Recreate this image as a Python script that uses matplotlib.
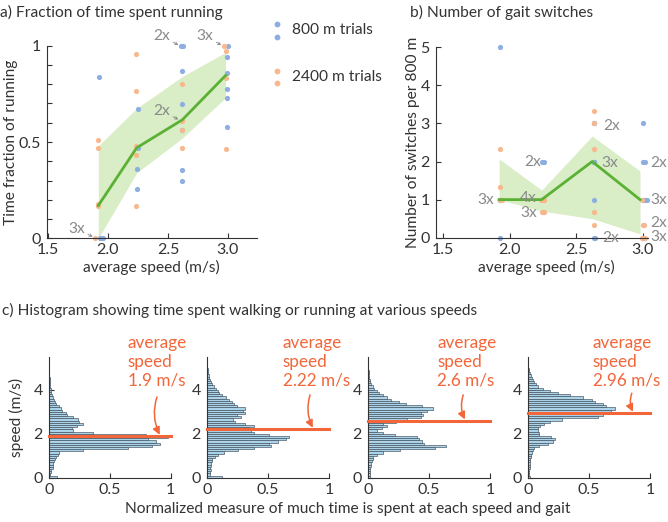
import numpy as np
import matplotlib
matplotlib.use('Agg')
import matplotlib.pyplot as plt
from matplotlib.lines import Line2D

plt.rcParams['font.family'] = ['Lato', 'DejaVu Sans']
plt.rcParams['font.size'] = 11.2

BLUE = '#8eaee2'
ORANGE = '#f8b88e'
GREEN = '#5ab134'
BAND = '#d9edc6'
RED = '#f2663a'
GRAY = '#8a8a8a'
INK = '#333333'
FS = 11.2
TFS = 11.5

# ---- panel a: fraction of time running ----
speeds = [1.92, 2.24, 2.62, 2.98]
a_mean = [0.17, 0.47, 0.615, 0.845]
a_low = [0.0, 0.34, 0.52, 0.73]
a_high = [0.48, 0.675, 0.84, 0.965]

a_blue_x = [1.93, 1.935, 1.945, 1.955, 2.25, 2.25, 2.245, 2.245,
            2.61, 2.625, 2.62, 2.62, 2.62, 2.62, 2.62,
            3.0, 2.99, 2.99, 2.99, 2.99, 2.99]
a_blue_y = [0.84, 0.0, 0.0, 0.0, 0.67, 0.47, 0.36, 0.255,
            1.0, 1.0, 0.87, 0.695, 0.56, 0.355, 0.295,
            1.0, 0.94, 0.86, 0.775, 0.73, 0.58]
a_orange_x = [1.915, 1.915, 1.915, 1.915, 1.89,
              2.235, 2.235, 2.235, 2.235, 2.235,
              2.62, 2.62, 2.62, 2.62,
              2.965, 2.985, 2.985, 2.985]
a_orange_y = [0.51, 0.47, 0.18, 0.17, 0.0,
              0.955, 0.765, 0.48, 0.43, 0.17,
              0.80, 0.61, 0.56, 0.47,
              1.0, 0.975, 0.83, 0.465]
a_notes = [('2x', 2.45, 1.05, 2.598, 1.0), ('3x', 2.81, 1.05, 2.955, 1.0),
           ('2x', 2.45, 0.66, 2.598, 0.614), ('3x', 1.74, 0.05, 1.884, 0.005)]

# ---- panel b: gait switches ----
b_mean = [1, 1, 2, 1]
b_low = [1.0, 0.7, 0.5, 0.1]
b_high = [2.07, 1.25, 2.67, 1.75]

b_blue_x = [1.93, 1.93, 1.93, 1.93, 1.93, 2.245, 2.26,
            2.635, 2.635, 2.635, 2.635, 2.635, 2.635, 2.635, 2.645,
            3.0, 3.0, 3.02, 3.0, 3.02, 3.03, 3.0]
b_blue_y = [5, 1, 1, 1, 0, 2, 2,
            3, 3, 2, 2, 2, 1, 0, 0,
            3, 2, 2, 1, 1, 1, 0]
b_orange_x = [1.925, 1.925, 1.93, 1.94,
              2.235, 2.245, 2.255, 2.26, 2.24, 2.25, 2.26,
              2.635, 2.635, 2.635, 2.635, 2.635,
              2.995, 3.0, 3.01, 2.995, 3.005, 3.02]
b_orange_y = [2.33, 1.33, 1, 1,
              1, 1, 1, 1, 0.67, 0.67, 0.67,
              3.33, 3, 2.33, 0.67, 0.33,
              1, 0.33, 0.33, 0, 0, 0]
b_notes = [('3x', 1.82, 1.0), ('4x', 2.14, 1.03), ('3x', 2.14, 0.65),
           ('2x', 2.17, 2.0), ('2x', 2.77, 2.93), ('3x', 2.75, 1.95),
           ('2x', 2.76, 0.0), ('2x', 3.12, 1.95), ('3x', 3.12, 0.99),
           ('2x', 3.12, 0.39), ('3x', 3.12, 0.03)]

# ---- panel c: histograms (bin width 0.1 m/s, from 0 to 5) ----
avg_speed = [1.9, 2.22, 2.6, 2.96]
avg_label = ['1.9', '2.22', '2.6', '2.96']
hist1 = [0.065, 0.01, 0.015, 0.02, 0.03, 0.03, 0.035, 0.04, 0.05, 0.06,
         0.077, 0.085, 0.28, 0.65, 0.85, 0.91, 0.88, 0.81, 0.98, 0.80,
         0.36, 0.20, 0.19, 0.23, 0.28, 0.25, 0.24, 0.20, 0.15, 0.14,
         0.11, 0.10, 0.08, 0.06, 0.05, 0.04, 0.03, 0.025, 0.02, 0.018,
         0.015, 0.012, 0.01, 0.008, 0.006, 0.005, 0.004, 0.003, 0.002, 0.001]
hist2 = [0.12, 0.02, 0.025, 0.03, 0.025, 0.03, 0.03, 0.035, 0.04, 0.06,
         0.09, 0.14, 0.25, 0.38, 0.52, 0.51, 0.58, 0.65, 0.67, 0.51,
         0.38, 0.36, 0.34, 0.38, 0.31, 0.23, 0.21, 0.28, 0.24, 0.31,
         0.29, 0.31, 0.24, 0.22, 0.20, 0.175, 0.15, 0.12, 0.10, 0.085,
         0.075, 0.055, 0.04, 0.03, 0.02, 0.015, 0.01, 0.006, 0.003, 0.002]
hist3 = [0.01, 0.01, 0.01, 0.015, 0.015, 0.02, 0.02, 0.03, 0.035, 0.04,
         0.07, 0.12, 0.26, 0.55, 0.64, 0.46, 0.44, 0.42, 0.40, 0.22,
         0.12, 0.07, 0.11, 0.15, 0.12, 0.23, 0.32, 0.43, 0.45, 0.43,
         0.48, 0.53, 0.44, 0.31, 0.25, 0.19, 0.15, 0.12, 0.09, 0.07,
         0.05, 0.035, 0.025, 0.015, 0.01, 0.008, 0.005, 0.003, 0.002, 0.0]
hist4 = [0.01, 0.005, 0.005, 0.008, 0.01, 0.01, 0.012, 0.015, 0.015, 0.02,
         0.025, 0.03, 0.035, 0.05, 0.09, 0.16, 0.20, 0.22, 0.19, 0.09,
         0.09, 0.08, 0.08, 0.10, 0.13, 0.18, 0.28, 0.57, 0.61, 0.66,
         0.68, 0.71, 0.64, 0.61, 0.55, 0.52, 0.45, 0.34, 0.24, 0.18,
         0.12, 0.08, 0.06, 0.05, 0.04, 0.03, 0.02, 0.01, 0.005, 0.003]
hists = [hist1, hist2, hist3, hist4]
bin_w = 0.1
bins = np.arange(len(hist1)) * bin_w

W, H = 668, 522
fig = plt.figure(figsize=(W / 100, H / 100), dpi=100)


def box(l, t, r, b):
    # pixel box -> figure fraction
    return [l / W, 1 - b / H, (r - l) / W, (b - t) / H]


def style(ax):
    for s in ['top', 'right']:
        ax.spines[s].set_visible(False)
    for s in ['left', 'bottom']:
        ax.spines[s].set_color(INK)
        ax.spines[s].set_linewidth(0.8)
    ax.tick_params(direction='in', length=3.5, width=0.8, color=INK,
                   labelcolor=INK, labelsize=TFS, pad=3.5)
    ax.tick_params(axis='y', pad=4.5)


# panel a
ax = fig.add_axes(box(46.7, 45.7, 256.7, 238.3))
style(ax)
ax.fill_between(speeds, a_low, a_high, color=BAND, lw=0, zorder=1)
ax.plot(speeds, a_mean, color=GREEN, lw=2, zorder=3)
ax.scatter(a_blue_x, a_blue_y, s=14, color=BLUE, lw=0, zorder=2, clip_on=False)
ax.scatter(a_orange_x, a_orange_y, s=14, color=ORANGE, lw=0, zorder=2, clip_on=False)
for t, tx, ty, px_, py_ in a_notes:
    ax.annotate(t, xy=(px_, py_), xytext=(tx, ty), color=GRAY, fontsize=FS,
                ha='center', va='center', annotation_clip=False,
                arrowprops=dict(arrowstyle='->', color=GRAY, lw=0.6,
                                mutation_scale=5, shrinkA=6, shrinkB=1))
ax.set_xlim(1.49, 3.24)
ax.set_ylim(0, 1)
ax.set_xticks([1.5, 2.0, 2.5, 3.0])
ax.set_xticklabels(['1.5', '2.0', '2.5', '3.0'])
ax.set_yticks(np.arange(0, 1.01, 0.1))
ax.set_yticklabels(['0', '', '', '', '', '0.5', '', '', '', '', '1'])
ax.set_xlabel('average speed (m/s)', fontsize=FS, color=INK)
ax.set_ylabel('Time fraction of running', fontsize=FS, color=INK)
ax.xaxis.set_label_coords(0.5, -0.113)
ax.yaxis.set_label_coords(-0.135, 0.5)

# panel b
bx = fig.add_axes(box(436, 47.3, 648, 237.7))
style(bx)
bx.fill_between(speeds, b_low, b_high, color=BAND, lw=0, zorder=1)
bx.plot(speeds, b_mean, color=GREEN, lw=2, zorder=3)
bx.scatter(b_blue_x, b_blue_y, s=14, color=BLUE, lw=0, zorder=2, clip_on=False)
bx.scatter(b_orange_x, b_orange_y, s=14, color=ORANGE, lw=0, zorder=2, clip_on=False)
for t, tx, ty in b_notes:
    bx.text(tx, ty, t, color=GRAY, fontsize=FS, ha='center', va='center',
            clip_on=False, zorder=4)
bx.set_xlim(1.445, 3.04)
bx.set_ylim(0, 5)
bx.set_xticks([1.5, 2.0, 2.5, 3.0])
bx.set_xticklabels(['1.5', '2.0', '2.5', '3.0'])
bx.set_yticks(range(6))
bx.set_xlabel('average speed (m/s)', fontsize=FS, color=INK)
bx.set_ylabel('Number of switches per 800 m', fontsize=FS, color=INK)
bx.xaxis.set_label_coords(0.52, -0.117)
bx.yaxis.set_label_coords(-0.075, 0.5)

# legend (MATLAB style, two dots per entry)
for col, y0, label in [(BLUE, 24.3, '800 m trials'), (ORANGE, 71, '2400 m trials')]:
    for dx, dy in [(0, 0), (0.7, 12.4)]:
        fig.add_artist(Line2D([(276.5 + dx) / W], [1 - (y0 + dy) / H],
                              transform=fig.transFigure, marker='o', ms=4.2,
                              color=col, mec='none', ls='none'))
    fig.text(291.7 / W, 1 - (y0 + 6.2) / H, label, fontsize=FS, color=INK,
             ha='left', va='center')

# titles
fig.text(0.0 / W, 1 - 12 / H, 'a) Fraction of time spent running', fontsize=FS,
         color=INK, ha='left', va='center')
fig.text(410 / W, 1 - 12 / H, 'b) Number of gait switches', fontsize=FS,
         color=INK, ha='left', va='center')
fig.text(2 / W, 1 - 310 / H,
         'c) Histogram showing time spent walking or running at various speeds',
         fontsize=FS, color=INK, ha='left', va='center')

# panel c
lefts = [49, 207.3, 368.3, 528.3]
text_x = [0.647, 0.62, 0.567, 0.53]
arrows = [((0.887, 3.67), (0.91, 1.95)), ((0.844, 3.76), (0.867, 2.27)),
          ((0.78, 3.76), (0.794, 2.65)), ((0.85, 3.84), (0.86, 3.0))]
for i, l in enumerate(lefts):
    hx = fig.add_axes(box(l, 356.7, l + 121.7, 477.7))
    style(hx)
    hx.barh(bins, hists[i], height=bin_w, align='edge', color='#abd3ea',
            edgecolor='#3d4b57', lw=0.45, zorder=2)
    hx.plot([0, 1], [avg_speed[i], avg_speed[i]], color=RED, lw=2.2, zorder=3,
            clip_on=False)
    hx.text(text_x[i], 5.27, 'average\nspeed\n%s m/s' % avg_label[i], color=RED,
            fontsize=12.3, ha='left', va='center', linespacing=1.2, clip_on=False)
    (sx, sy), (ex, ey) = arrows[i]
    hx.annotate('', xy=(ex, ey), xytext=(sx, sy), annotation_clip=False,
                arrowprops=dict(arrowstyle='-|>', color=RED, lw=1.1,
                                mutation_scale=11, shrinkA=0, shrinkB=0,
                                connectionstyle='arc3,rad=0.2'))
    hx.set_xlim(0, 1)
    hx.set_ylim(0, 5.5)
    hx.set_xticks([0, 0.5, 1])
    hx.set_xticklabels(['0', '0.5', '1'])
    hx.set_yticks([0, 2, 4])
    if i == 0:
        hx.set_ylabel('speed (m/s)', fontsize=FS, color=INK)
        hx.yaxis.set_label_coords(-0.205, 0.5)

fig.text(348 / W, 1 - 509 / H,
         'Normalized measure of much time is spent at each speed and gait',
         fontsize=FS, color=INK, ha='center', va='center')

fig.savefig('out.png', dpi=100)
